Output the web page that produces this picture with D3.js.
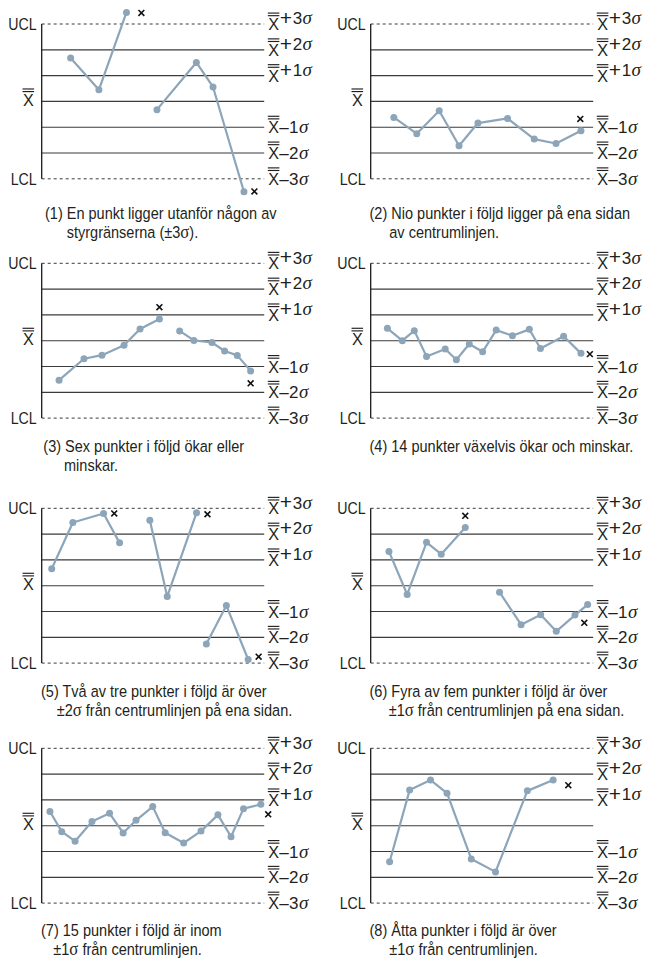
<!DOCTYPE html>
<html>
<head>
<meta charset="utf-8">
<script src="https://cdn.jsdelivr.net/npm/d3@7"></script>
<style>
  html, body { margin: 0; padding: 0; background: #fff; }
  svg { display: block; }
  text { font-family: "Liberation Sans", Arial, sans-serif; fill: #231f20; }
</style>
</head>
<body>
<svg id="chart" width="652" height="963"></svg>
<script>
// Reference levels of every control chart, in sigma units (UCL … LCL)
const sigmaLevels = [3, 2, 1, 0, -1, -2, -3];
const levelSigns = ["+", "+", "+", null, "\u2013", "\u2013", "\u2013"];
const levelDigits = ["3", "2", "1", null, "1", "2", "3"];

// Caption text of each of the eight rules
const captionLines = [
  ["(1) En punkt ligger utanför någon av", "styrgränserna (±3σ)."],
  ["(2) Nio punkter i följd ligger på ena sidan", "av centrumlinjen."],
  ["(3) Sex punkter i följd ökar eller", "minskar."],
  ["(4) 14 punkter växelvis ökar och minskar."],
  ["(5) Två av tre punkter i följd är över", "±2σ från centrumlinjen på ena sidan."],
  ["(6) Fyra av fem punkter i följd är över", "±1σ från centrumlinjen på ena sidan."],
  ["(7) 15 punkter i följd är inom", "±1σ från centrumlinjen."],
  ["(8) Åtta punkter i följd är över", "±1σ från centrumlinjen."]
];

// Sample positions (0–100 along the run), values (sigma), run group of each point,
// and the flagged samples (×) for every chart
const run1Pos = [13.0, 25.7, 38.1, 51.8, 69.5, 77.0, 90.9];
const run1Val = [1.68, 0.45, 3.45, -0.32, 1.51, 0.56, -3.50];
const run1Grp = [0, 0, 0, 1, 1, 1, 1];
const flag1Pos = [44.8, 95.6];
const flag1Val = [3.43, -3.49];

const run2Pos = [10.4, 20.7, 30.8, 39.7, 48.2, 61.5, 73.5, 83.3, 94.5];
const run2Val = [-0.62, -1.25, -0.36, -1.72, -0.84, -0.66, -1.46, -1.63, -1.14];
const run2Grp = [0, 0, 0, 0, 0, 0, 0, 0, 0];
const flag2Pos = [94.2];
const flag2Val = [-0.68];

const run3Pos = [7.8, 19.0, 27.1, 37.0, 44.2, 52.9, 62.0, 68.4, 76.5, 82.2, 87.9, 93.9];
const run3Val = [-1.53, -0.70, -0.56, -0.18, 0.45, 0.84, 0.38, 0.01, -0.07, -0.40, -0.57, -1.17];
const run3Grp = [0, 0, 0, 0, 0, 0, 1, 1, 1, 1, 1, 1];
const flag3Pos = [52.9, 93.9];
const flag3Val = [1.30, -1.65];

const run4Pos = [7.5, 14.2, 19.6, 25.1, 33.5, 38.5, 44.3, 50.3, 56.4, 63.7, 71.3, 76.3, 86.7, 94.5];
const run4Val = [0.48, 0.00, 0.39, -0.61, -0.32, -0.74, -0.13, -0.43, 0.41, 0.19, 0.44, -0.30, 0.17, -0.49];
const run4Grp = [0, 0, 0, 0, 0, 0, 0, 0, 0, 0, 0, 0, 0, 0];
const flag4Pos = [98.5];
const flag4Val = [-0.52];

const run5Pos = [4.5, 14.0, 27.8, 35.0, 48.6, 56.4, 69.6, 74.0, 83.0, 92.8];
const run5Val = [0.66, 2.45, 2.80, 1.66, 2.54, -0.42, 2.83, -2.26, -0.77, -2.86];
const run5Grp = [0, 0, 0, 0, 1, 1, 1, 2, 2, 2];
const flag5Pos = [32.6, 74.5, 97.5];
const flag5Val = [2.80, 2.77, -2.75];

const run6Pos = [8.2, 16.4, 25.1, 31.7, 42.5, 57.9, 67.6, 76.4, 83.4, 91.8, 97.5];
const run6Val = [1.33, -0.34, 1.68, 1.22, 2.26, -0.25, -1.51, -1.13, -1.77, -1.14, -0.73];
const run6Grp = [0, 0, 0, 0, 0, 1, 1, 1, 1, 1, 1];
const flag6Pos = [42.5, 96.0];
const flag6Val = [2.71, -1.44];

const run7Pos = [3.7, 9.0, 15.0, 22.6, 30.5, 36.6, 42.4, 49.9, 55.5, 63.8, 71.6, 79.2, 85.1, 90.7, 98.5];
const run7Val = [0.55, -0.23, -0.60, 0.16, 0.48, -0.28, 0.21, 0.74, -0.27, -0.67, -0.21, 0.42, -0.43, 0.66, 0.83];
const run7Grp = [0, 0, 0, 0, 0, 0, 0, 0, 0, 0, 0, 0, 0, 0, 0];
const flag7Pos = [101.8];
const flag7Val = [0.44];

const run8Pos = [8.5, 17.5, 26.9, 34.3, 45.2, 56.1, 70.4, 82.0];
const run8Val = [-1.40, 1.38, 1.77, 1.26, -1.29, -1.79, 1.35, 1.77];
const run8Grp = [0, 0, 0, 0, 0, 0, 0, 0];
const flag8Pos = [88.8];
const flag8Val = [1.57];

const runs = [
  [run1Pos, run1Val, run1Grp, flag1Pos, flag1Val],
  [run2Pos, run2Val, run2Grp, flag2Pos, flag2Val],
  [run3Pos, run3Val, run3Grp, flag3Pos, flag3Val],
  [run4Pos, run4Val, run4Grp, flag4Pos, flag4Val],
  [run5Pos, run5Val, run5Grp, flag5Pos, flag5Val],
  [run6Pos, run6Val, run6Grp, flag6Pos, flag6Val],
  [run7Pos, run7Val, run7Grp, flag7Pos, flag7Val],
  [run8Pos, run8Val, run8Grp, flag8Pos, flag8Val]
];

// ---- layout ----
const colAxisX = [41.7, 370.7];
const plotW = 222.5;
const rowTop = [24, 263.3, 508.3, 748.3];
const plotH = 154.8;
const captionBase = [219, 452, 697, 936];
const captionLead = 19;
const captionX = [45, 369.5, 43.3, 369.5, 41, 369.5, 41, 369.5];
const captionX2 = [66.7, 389.3, 64, 389.3, 56.7, 388.7, 53.3, 389.3];
const captionSize = 16.5;
const captionNarrow = 0.88;   // horizontal condensing of the captions
const labelNarrow = 0.86;     // horizontal condensing of UCL / LCL

const pointColor = "#8da5b9";
const ruleColor = "#3b3b3b";
const sigmaFont = "'Liberation Serif', 'DejaVu Serif', serif";

const svg = d3.select("#chart");

// text placed at (x, y) and squeezed horizontally by factor f
function squeezedText(g, x, y, f) {
  return g.append("text").attr("transform", `translate(${x},${y}) scale(${f},1)`);
}

// Draws "X" with a double overline; returns the right edge of the letter
function xDoubleBar(g, x, y, anchor, size) {
  const t = squeezedText(g, x, y, 0.95)
    .attr("dy", "0.36em")
    .attr("text-anchor", anchor)
    .style("font-size", size + "px")
    .text("X");
  const w = t.node().getComputedTextLength() * 0.95;
  const left = anchor === "end" ? x - w : x;
  const capTop = y - size * 0.36;
  [capTop - 2.2, capTop - 4.8].forEach(by => {
    g.append("line")
      .attr("x1", left - 0.4).attr("x2", left + w + 0.4)
      .attr("y1", by).attr("y2", by)
      .attr("stroke", "#231f20").attr("stroke-width", 1.15);
  });
  return left + w;
}

runs.forEach((run, i) => {
  const [pos, val, grp, fPos, fVal] = run;
  const col = i % 2, row = Math.floor(i / 2);
  const x0 = colAxisX[col], top = rowTop[row];

  const x = d3.scaleLinear().domain([0, 100]).range([x0, x0 + plotW]);
  const y = d3.scaleLinear().domain([-3, 3]).range([top + plotH, top]);

  const g = svg.append("g");

  // horizontal reference lines
  g.selectAll("line.level")
    .data(sigmaLevels)
    .join("line")
    .attr("class", "level")
    .attr("x1", x(0)).attr("x2", x(100))
    .attr("y1", d => y(d)).attr("y2", d => y(d))
    .attr("stroke", ruleColor)
    .attr("stroke-width", d => Math.abs(d) === 3 ? 1 : 1.15)
    .attr("stroke-dasharray", d => Math.abs(d) === 3 ? "3,3" : null);

  // vertical axis
  g.append("line")
    .attr("x1", x(0)).attr("x2", x(0))
    .attr("y1", y(3)).attr("y2", y(-3))
    .attr("stroke", "#1a1a1a").attr("stroke-width", 1.3);

  // left labels
  ["UCL", "LCL"].forEach((lab, k) => {
    squeezedText(g, x(0) - 5, y(k ? -3 : 3), labelNarrow)
      .attr("dy", "0.36em")
      .attr("text-anchor", "end")
      .style("font-size", "16.5px")
      .text(lab);
  });
  xDoubleBar(g, x(0) - 8, y(0) - 1.5, "end", 17);

  // right labels
  sigmaLevels.forEach((lv, k) => {
    if (levelSigns[k] === null) return;
    const ly = y(lv);
    const xr = xDoubleBar(g, x(100) + 4, ly, "start", 17);
    const plus = levelSigns[k] === "+";
    const t = g.append("text")
      .attr("x", xr + (plus ? 0.8 : 0.3)).attr("y", ly).attr("dy", "0.36em")
      .style("font-size", "17px");
    t.append("tspan").text(levelSigns[k])
      .style("font-size", plus ? "21px" : "17px")
      .attr("dy", plus ? "0.05em" : null);
    t.append("tspan").text(levelDigits[k])
      .attr("dy", plus ? "-0.05em" : null)
      .attr("dx", plus ? 0.6 : 0.2);
    t.append("tspan").text("σ")
      .style("font-family", sigmaFont)
      .style("font-style", "italic")
      .style("font-size", "19px")
      .attr("dx", 0.5);
  });

  // run lines
  const pts = pos.map((p, k) => ({ p, v: val[k], g: grp[k] }));
  const groups = d3.groups(pts, d => d.g);
  const line = d3.line().x(d => x(d.p)).y(d => y(d.v));
  g.selectAll("path.run")
    .data(groups)
    .join("path")
    .attr("class", "run")
    .attr("d", d => line(d[1]))
    .attr("fill", "none")
    .attr("stroke", pointColor)
    .attr("stroke-width", 2.2)
    .attr("stroke-linejoin", "round");

  g.selectAll("circle.pt")
    .data(pts)
    .join("circle")
    .attr("class", "pt")
    .attr("cx", d => x(d.p)).attr("cy", d => y(d.v))
    .attr("r", 3.5)
    .attr("fill", pointColor);

  // flagged samples
  const cross = d3.symbol(d3.symbolX, 24);
  g.selectAll("path.flag")
    .data(fPos.map((p, k) => ({ p, v: fVal[k] })))
    .join("path")
    .attr("class", "flag")
    .attr("d", cross)
    .attr("transform", d => `translate(${x(d.p)},${y(d.v)})`)
    .attr("fill", "none")
    .attr("stroke", "#111")
    .attr("stroke-width", 1.6);

  // caption
  captionLines[i].forEach((txt, k) => {
    const t = squeezedText(g, k === 0 ? captionX[i] : captionX2[i],
                           captionBase[row] + k * captionLead, captionNarrow)
      .style("font-size", captionSize + "px");
    txt.split(/(σ)/).forEach(part => {
      if (!part) return;
      const s = t.append("tspan").text(part);
      if (part === "σ") {
        s.style("font-family", sigmaFont).style("font-size", "19px");
      }
    });
  });
});
</script>
</body>
</html>
